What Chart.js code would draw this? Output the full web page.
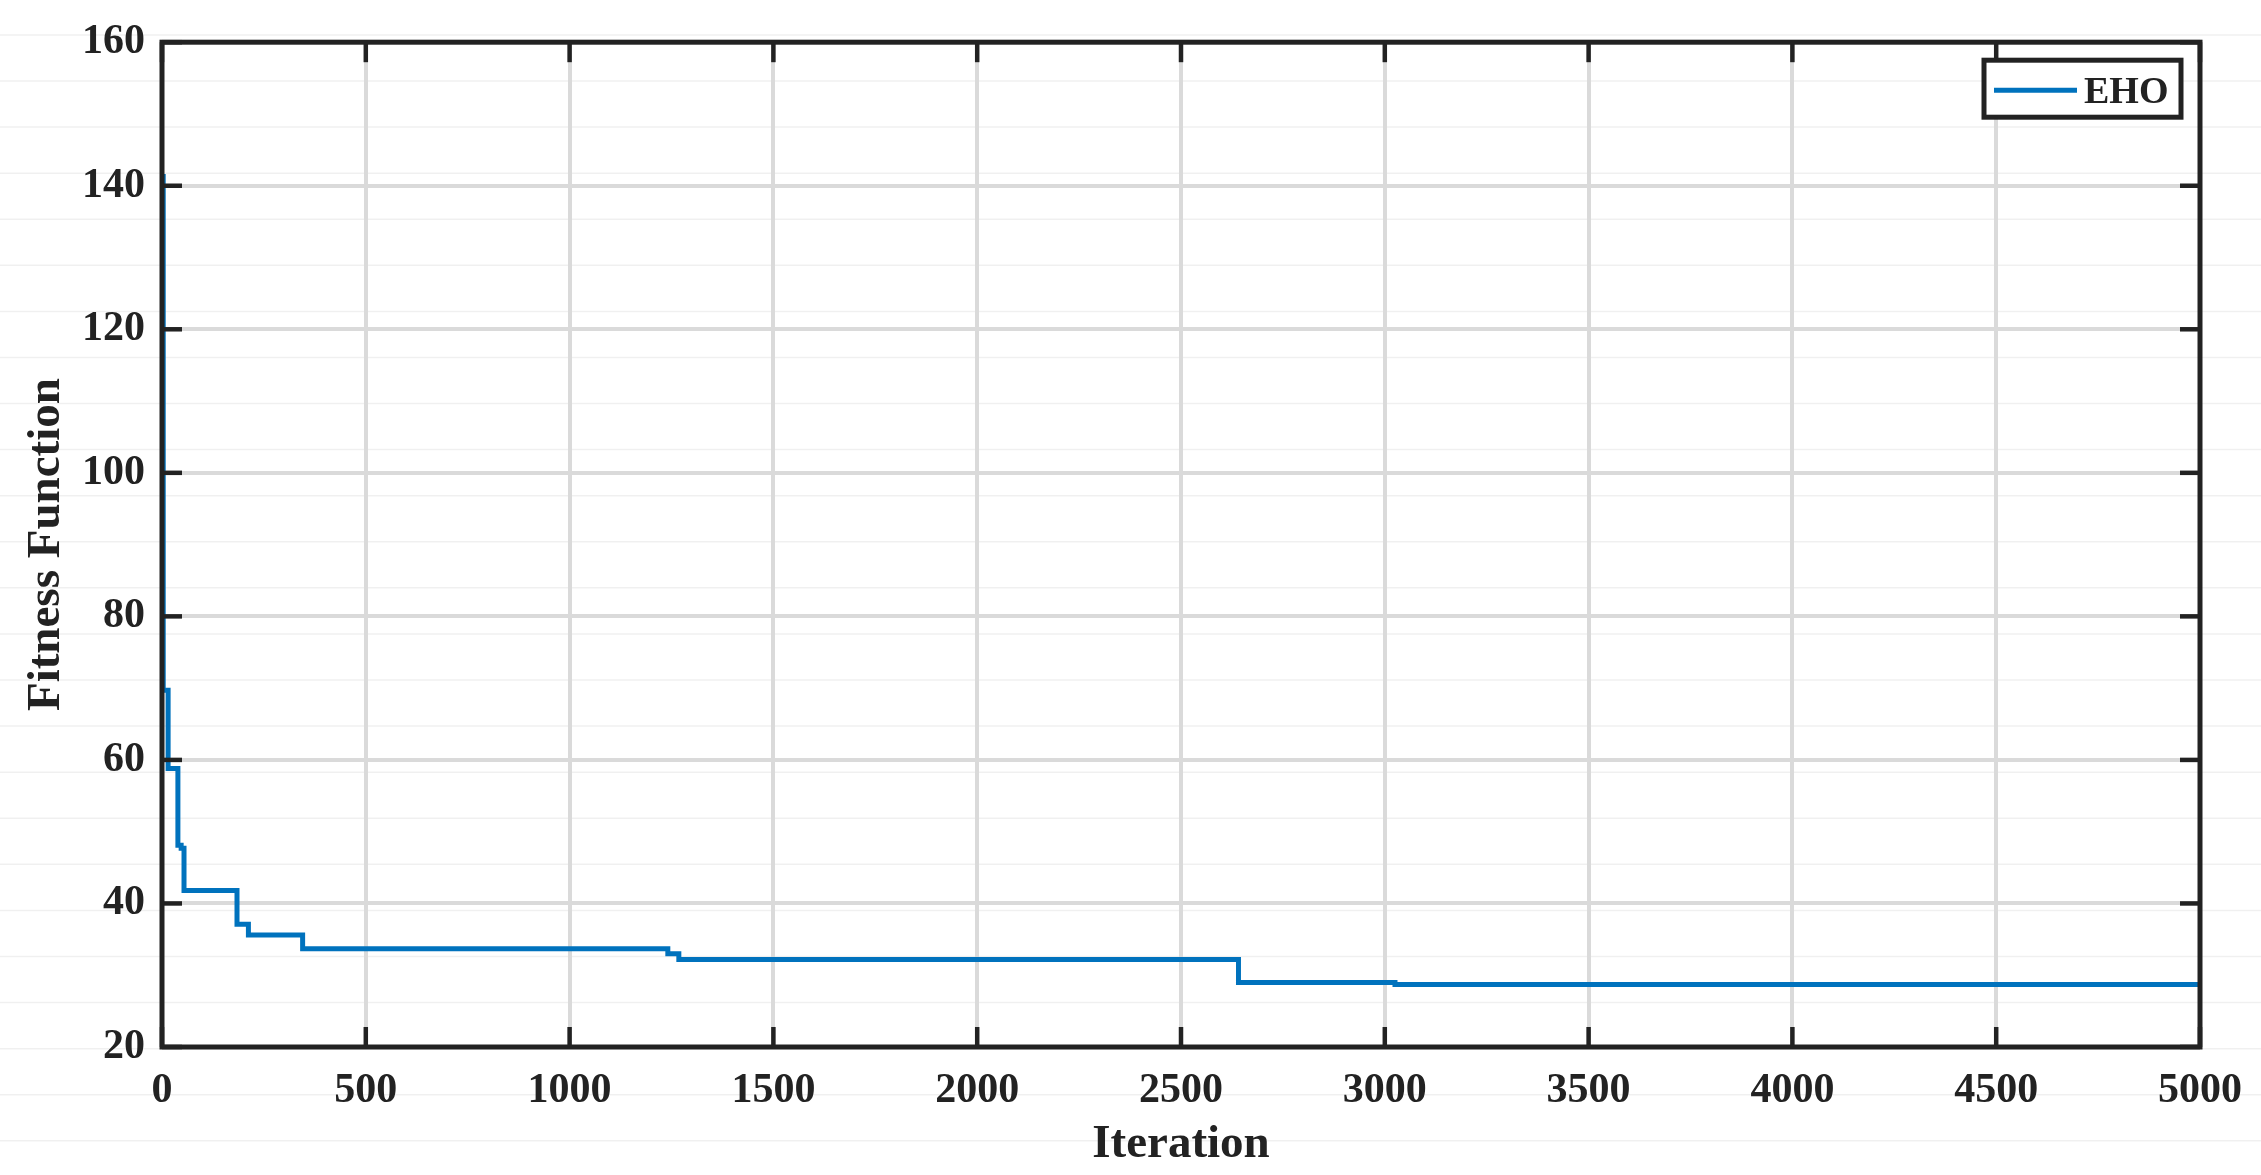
<!DOCTYPE html>
<html><head><meta charset="utf-8">
<script src="https://cdn.jsdelivr.net/npm/chart.js@4.4.1/dist/chart.umd.min.js"></script>
<style>html,body{margin:0;padding:0;background:#fff;overflow:hidden}</style>
</head><body>
<canvas id="c" width="2261" height="1175" style="width:2261px;height:1175px;display:block"></canvas>
<script>
// ---- data ----
const seriesName = 'EHO';
const iterations = [0, 3, 15, 39, 47, 54, 184, 212, 345, 1241, 1268, 2641, 3025, 5000];
const fitness    = [141.3, 69.7, 58.8, 48.1, 47.7, 41.8, 37.1, 35.6, 33.7, 33.0, 32.2, 29.0, 28.7, 28.7];
const xTicks = [0, 500, 1000, 1500, 2000, 2500, 3000, 3500, 4000, 4500, 5000];
const yTicks = [20, 40, 60, 80, 100, 120, 140, 160];
const xTitle = 'Iteration';
const yTitle = 'Fitness Function';

// ---- styles ----
const FONT = "'Liberation Serif', 'Times New Roman', serif";
const INK = '#222222';
const LINE = '#0072BD';

const points = iterations.map((x, i) => ({x, y: fitness[i]}));

const bgPlugin = {
  id: 'bg',
  beforeDraw(chart) {
    const ctx = chart.ctx;
    ctx.save();
    ctx.fillStyle = '#ffffff';
    ctx.fillRect(0, 0, chart.width, chart.height);
    ctx.strokeStyle = 'rgba(0,0,0,0.06)';
    ctx.lineWidth = 1.5;
    const spacing = 46.08;
    for (let y = 34.9; y < chart.height; y += spacing) {
      ctx.beginPath(); ctx.moveTo(0, y); ctx.lineTo(chart.width, y); ctx.stroke();
    }
    ctx.restore();
  }
};

const framePlugin = {
  id: 'frame',
  afterDatasetsDraw(chart) {
    const {ctx, chartArea: a, scales} = chart;
    ctx.save();
    ctx.strokeStyle = INK;
    ctx.lineWidth = 4.5;
    const tl = 20;
    scales.x.ticks.forEach(t => {
      const px = scales.x.getPixelForValue(t.value);
      ctx.beginPath(); ctx.moveTo(px, a.bottom); ctx.lineTo(px, a.bottom - tl); ctx.stroke();
      ctx.beginPath(); ctx.moveTo(px, a.top); ctx.lineTo(px, a.top + tl); ctx.stroke();
    });
    scales.y.ticks.forEach(t => {
      const py = scales.y.getPixelForValue(t.value);
      ctx.beginPath(); ctx.moveTo(a.left, py); ctx.lineTo(a.left + tl, py); ctx.stroke();
      ctx.beginPath(); ctx.moveTo(a.right, py); ctx.lineTo(a.right - tl, py); ctx.stroke();
    });
    ctx.lineWidth = 5;
    ctx.strokeRect(a.left, a.top, a.right - a.left, a.bottom - a.top);

    // legend box
    const ds = chart.data.datasets[0];
    const bx = a.right - 216, by = a.top + 18, bw = 197, bh = 57;
    ctx.fillStyle = '#ffffff';
    ctx.fillRect(bx, by, bw, bh);
    ctx.lineWidth = 5;
    ctx.strokeStyle = INK;
    ctx.strokeRect(bx, by, bw, bh);
    ctx.strokeStyle = ds.borderColor;
    ctx.lineWidth = 5;
    ctx.beginPath(); ctx.moveTo(bx + 10, by + 30); ctx.lineTo(bx + 93, by + 30); ctx.stroke();
    ctx.fillStyle = INK;
    ctx.font = "bold 38px " + FONT;
    ctx.textBaseline = 'alphabetic';
    ctx.textAlign = 'left';
    ctx.fillText(ds.label, bx + 100, by + 43);
    ctx.restore();
  }
};

new Chart(document.getElementById('c'), {
  type: 'line',
  data: {
    datasets: [{
      label: seriesName,
      data: points,
      borderColor: LINE,
      backgroundColor: LINE,
      borderWidth: 5,
      pointRadius: 0,
      stepped: true,
      fill: false,
      tension: 0
    }]
  },
  options: {
    responsive: false,
    devicePixelRatio: 1,
    animation: false,
    layout: {padding: {left: 0, top: 37, right: 57, bottom: 0}},
    plugins: {legend: {display: false}, tooltip: {enabled: false}},
    scales: {
      x: {
        type: 'linear', min: 0, max: 5000,
        afterBuildTicks: s => { s.ticks = xTicks.map(v => ({value: v})); },
        afterFit: s => { s.height = 128; },
        grid: {color: '#dadada', lineWidth: 4, drawTicks: false},
        border: {display: false},
        ticks: {color: INK, padding: 19, maxRotation: 0, autoSkip: false,
                callback: v => String(v),
                font: {family: FONT, weight: 'bold', size: 42}},
        title: {display: true, text: xTitle, color: INK, padding: {top: 0, bottom: 2},
                font: {family: FONT, weight: 'bold', size: 47}}
      },
      y: {
        type: 'linear', min: 20, max: 160,
        afterBuildTicks: s => { s.ticks = yTicks.map(v => ({value: v})); },
        afterFit: s => { s.width = 162; },
        grid: {color: '#dadada', lineWidth: 4, drawTicks: false},
        border: {display: false},
        ticks: {color: INK, padding: 17, autoSkip: false,
                callback: v => String(v),
                font: {family: FONT, weight: 'bold', size: 42}},
        title: {display: true, text: yTitle, color: INK, padding: {top: 19, bottom: 0},
                font: {family: FONT, weight: 'bold', size: 47}}
      }
    }
  },
  plugins: [bgPlugin, framePlugin]
});
</script>
</body></html>
